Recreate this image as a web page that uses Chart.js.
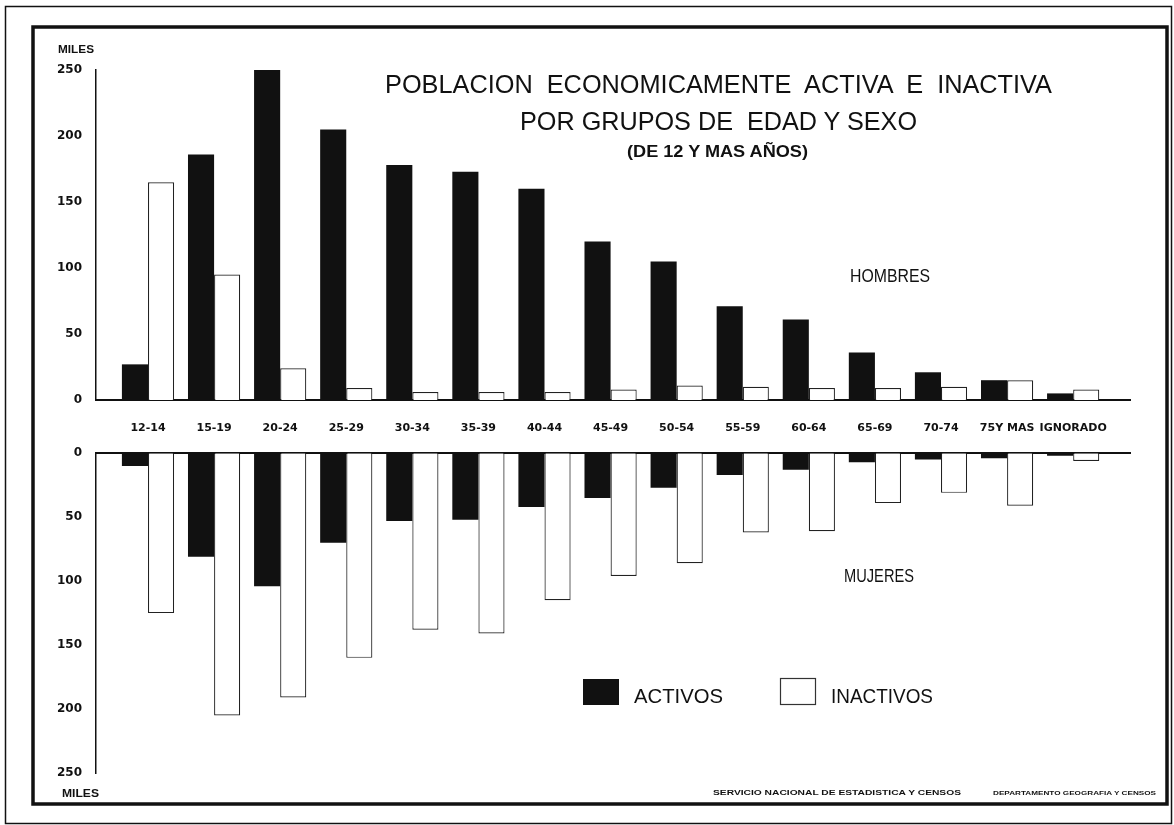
<!DOCTYPE html>
<html lang="es">
<head>
<meta charset="UTF-8">
<title>Poblacion economicamente activa e inactiva</title>
<script src="https://cdn.jsdelivr.net/npm/chart.js@4.4.1/dist/chart.umd.min.js"></script>
<style>
  html, body { margin: 0; padding: 0; background: #fff; }
  #page { position: relative; width: 1174px; height: 825px; overflow: hidden; background: #fff; }
  canvas { position: absolute; left: 0; }
  #top { top: 0; }
  #bottom { top: 440px; }
  svg { position: absolute; left: 0; top: 0; pointer-events: none; }
  text { font-family: "Liberation Sans", "DejaVu Sans", sans-serif; fill: #111; white-space: pre; }
</style>
</head>
<body>
<div id="page">
  <canvas id="top" width="1174" height="445"></canvas>
  <canvas id="bottom" width="1174" height="385"></canvas>
  <svg width="1174" height="825" xml:space="preserve">
    <!-- marcos -->
    <rect x="5.5" y="6.5" width="1166" height="817" fill="none" stroke="#111" stroke-width="1.5"/>
    <rect x="33" y="27" width="1134" height="777" fill="none" stroke="#111" stroke-width="3.5"/>

    <!-- titulo -->
    <text x="385" y="93" font-size="25" textLength="667" lengthAdjust="spacingAndGlyphs">POBLACION  ECONOMICAMENTE  ACTIVA  E  INACTIVA</text>
    <text x="520" y="130" font-size="25" textLength="397" lengthAdjust="spacingAndGlyphs">POR GRUPOS DE  EDAD Y SEXO</text>
    <text x="627" y="157" font-size="16" font-weight="bold" textLength="181" lengthAdjust="spacingAndGlyphs">(DE 12 Y MAS AÑOS)</text>

    <text x="58" y="53" font-size="11" font-weight="bold" textLength="36" lengthAdjust="spacingAndGlyphs">MILES</text>
    <text x="62" y="797" font-size="11" font-weight="bold" textLength="37" lengthAdjust="spacingAndGlyphs">MILES</text>

    <text x="850" y="282" font-size="18" textLength="80" lengthAdjust="spacingAndGlyphs">HOMBRES</text>
    <text x="844" y="582" font-size="18" textLength="70" lengthAdjust="spacingAndGlyphs">MUJERES</text>

    <!-- leyenda -->
    <rect x="583" y="679" width="36" height="26" fill="#111"/>
    <text x="634" y="703" font-size="20" textLength="89" lengthAdjust="spacingAndGlyphs">ACTIVOS</text>
    <rect x="780.5" y="678.5" width="35" height="26" fill="#fff" stroke="#333" stroke-width="1.2"/>
    <text x="831" y="703" font-size="20" textLength="102" lengthAdjust="spacingAndGlyphs">INACTIVOS</text>

    <!-- creditos -->
    <text x="713" y="795" font-size="8" font-weight="bold" textLength="248" lengthAdjust="spacingAndGlyphs">SERVICIO NACIONAL DE ESTADISTICA Y CENSOS</text>
    <text x="993" y="795" font-size="6" font-weight="bold" textLength="163" lengthAdjust="spacingAndGlyphs">DEPARTAMENTO GEOGRAFIA Y CENSOS</text>
  </svg>
</div>

<script>
  // grupos de edad
  const labels = ['12-14', '15-19', '20-24', '25-29', '30-34', '35-39', '40-44', '45-49',
                  '50-54', '55-59', '60-64', '65-69', '70-74', '75Y MAS', 'IGNORADO'];

  // miles de personas
  const hombresActivos   = [27, 186, 250, 205, 178, 173, 160, 120, 105, 71, 61, 36, 21, 15, 5];
  const hombresInactivos = [165, 95, 24, 9, 6, 6, 6, 8, 11, 10, 9, 9, 10, 15, 8];
  const mujeresActivas   = [10, 81, 104, 70, 53, 52, 42, 35, 27, 17, 13, 7, 5, 4, 2];
  const mujeresInactivas = [125, 205, 191, 160, 138, 141, 115, 96, 86, 62, 61, 39, 31, 41, 6];

  const yTicks = [0, 50, 100, 150, 200, 250];

  const INK = '#111';
  const tickFont = { family: 'DejaVu Sans', size: 11, weight: 'bold' };

  function points(arr) {
    return arr.map((v, i) => ({ x: i, y: v }));
  }

  function datasets(activos, inactivos) {
    return [
      { label: 'ACTIVOS', data: points(activos), backgroundColor: INK, borderColor: INK, borderWidth: 0 },
      { label: 'INACTIVOS', data: points(inactivos), backgroundColor: '#fff', borderColor: '#222', borderWidth: 1.2 }
    ];
  }

  function xScale(showLabels) {
    return {
      type: 'linear',
      min: -0.787,
      max: 14.86,
      offset: false,
      position: showLabels ? 'bottom' : 'top',
      grid: { display: false },
      border: { display: true, color: INK, width: 2 },
      ticks: {
        display: showLabels,
        stepSize: 1,
        includeBounds: false,
        autoSkip: false,
        maxRotation: 0,
        padding: 14,
        color: INK,
        font: tickFont,
        callback: v => Number.isInteger(v) ? labels[v] : ''
      },
      afterFit: s => { s.height = showLabels ? 45 : 0; }
    };
  }

  function yScale(reverse) {
    return {
      min: 0,
      max: 250,
      reverse: reverse,
      grid: { display: false },
      border: { display: true, color: INK, width: 1.5 },
      afterBuildTicks: s => { s.ticks = yTicks.map(v => ({ value: v })); },
      ticks: { color: INK, font: { family: 'DejaVu Sans', size: 12, weight: 'bold' }, padding: 6 },
      afterFit: s => { s.width = 96; }
    };
  }

  function makeChart(id, activos, inactivos, reverse, padding) {
    return new Chart(document.getElementById(id), {
      type: 'bar',
      data: { datasets: datasets(activos, inactivos) },
      options: {
        responsive: false,
        animation: false,
        devicePixelRatio: 1,
        layout: { padding: padding },
        categoryPercentage: 0.79,
        barPercentage: 1.0,
        plugins: { legend: { display: false }, tooltip: { enabled: false } },
        scales: { x: xScale(!reverse), y: yScale(reverse) }
      }
    });
  }

  // hombres arriba, mujeres abajo (eje invertido)
  makeChart('top', hombresActivos, hombresInactivos, false, { top: 70, right: 44, left: 0, bottom: 0 });
  makeChart('bottom', mujeresActivas, mujeresInactivas, true, { top: 8, right: 44, left: 0, bottom: 52 });
</script>
</body>
</html>
